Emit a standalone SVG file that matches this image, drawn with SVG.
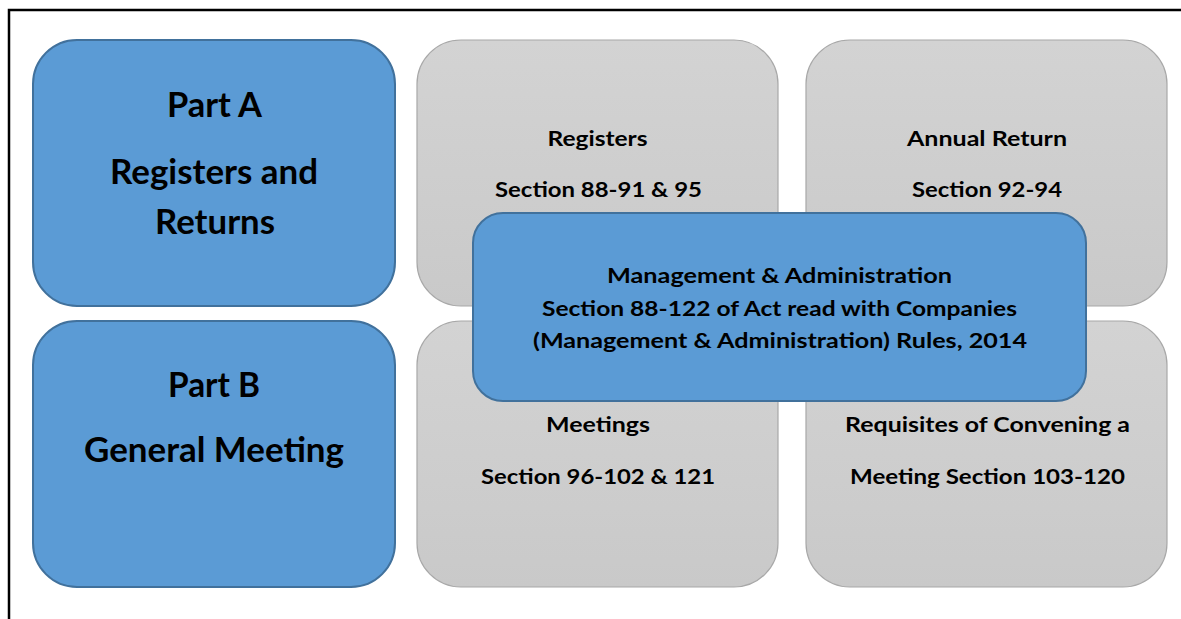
<svg xmlns="http://www.w3.org/2000/svg" width="1181" height="619" viewBox="0 0 1181 619">
<defs>
<linearGradient id="gray" x1="0" y1="0" x2="0" y2="1">
<stop offset="0" stop-color="#d3d3d3"/>
<stop offset="1" stop-color="#c9c9c9"/>
</linearGradient>
<style>
.blue{fill:#5b9bd5;stroke:#41719c;stroke-width:2}
.gray{fill:url(#gray);stroke:#a8a8a8;stroke-width:1.2}
text{font-family:Lato,"Liberation Sans",sans-serif;font-weight:700;fill:#000;text-anchor:middle}
.big{font-size:34px}
.mid{font-size:21px}
.small{font-size:20.5px}
.frame{stroke:#000;stroke-width:2.5;fill:none}
</style>
</defs>
<rect width="1181" height="619" fill="#fff"/>
<path class="frame" d="M9,619 V10 H1181"/>
<g id="registers">
<rect class="gray" x="417" y="40" width="361" height="266" rx="44"/>
<text class="mid" x="597.5" y="146" textLength="100" lengthAdjust="spacingAndGlyphs">Registers</text>
<text class="mid" x="598.5" y="197" textLength="207" lengthAdjust="spacingAndGlyphs">Section 88-91 &amp; 95</text>
</g>
<g id="annual-return">
<rect class="gray" x="806" y="40" width="361" height="266" rx="44"/>
<text class="mid" x="987" y="146" textLength="160" lengthAdjust="spacingAndGlyphs">Annual Return</text>
<text class="mid" x="987" y="197" textLength="150" lengthAdjust="spacingAndGlyphs">Section 92-94</text>
</g>
<g id="meetings">
<rect class="gray" x="417" y="321" width="361" height="266" rx="44"/>
<text class="mid" x="598" y="432" textLength="104" lengthAdjust="spacingAndGlyphs">Meetings</text>
<text class="mid" x="598" y="484" textLength="234" lengthAdjust="spacingAndGlyphs">Section 96-102 &amp; 121</text>
</g>
<g id="requisites">
<rect class="gray" x="806" y="321" width="361" height="266" rx="44"/>
<text class="mid" x="987.5" y="432" textLength="285" lengthAdjust="spacingAndGlyphs">Requisites of Convening a</text>
<text class="mid" x="987.5" y="484" textLength="275" lengthAdjust="spacingAndGlyphs">Meeting Section 103-120</text>
</g>
<g id="part-a">
<rect class="blue" x="33" y="40" width="362" height="266" rx="44"/>
<text class="big" x="214.5" y="117" textLength="95" lengthAdjust="spacingAndGlyphs">Part A</text>
<text class="big" x="214" y="184" textLength="208" lengthAdjust="spacingAndGlyphs">Registers and</text>
<text class="big" x="215" y="234" textLength="120" lengthAdjust="spacingAndGlyphs">Returns</text>
</g>
<g id="part-b">
<rect class="blue" x="33" y="321" width="362" height="266" rx="44"/>
<text class="big" x="214" y="397" textLength="92" lengthAdjust="spacingAndGlyphs">Part B</text>
<text class="big" x="214" y="462" textLength="260" lengthAdjust="spacingAndGlyphs">General Meeting</text>
</g>
<g id="management">
<rect class="blue" x="473" y="213" width="613" height="188" rx="30"/>
<text class="small" x="779.5" y="283" textLength="345" lengthAdjust="spacingAndGlyphs">Management &amp; Administration</text>
<text class="small" x="779.5" y="316" textLength="475" lengthAdjust="spacingAndGlyphs">Section 88-122 of Act read with Companies</text>
<text class="small" x="780" y="348" textLength="494" lengthAdjust="spacingAndGlyphs">(Management &amp; Administration) Rules, 2014</text>
</g>
<g id="connectors"/>
</svg>
